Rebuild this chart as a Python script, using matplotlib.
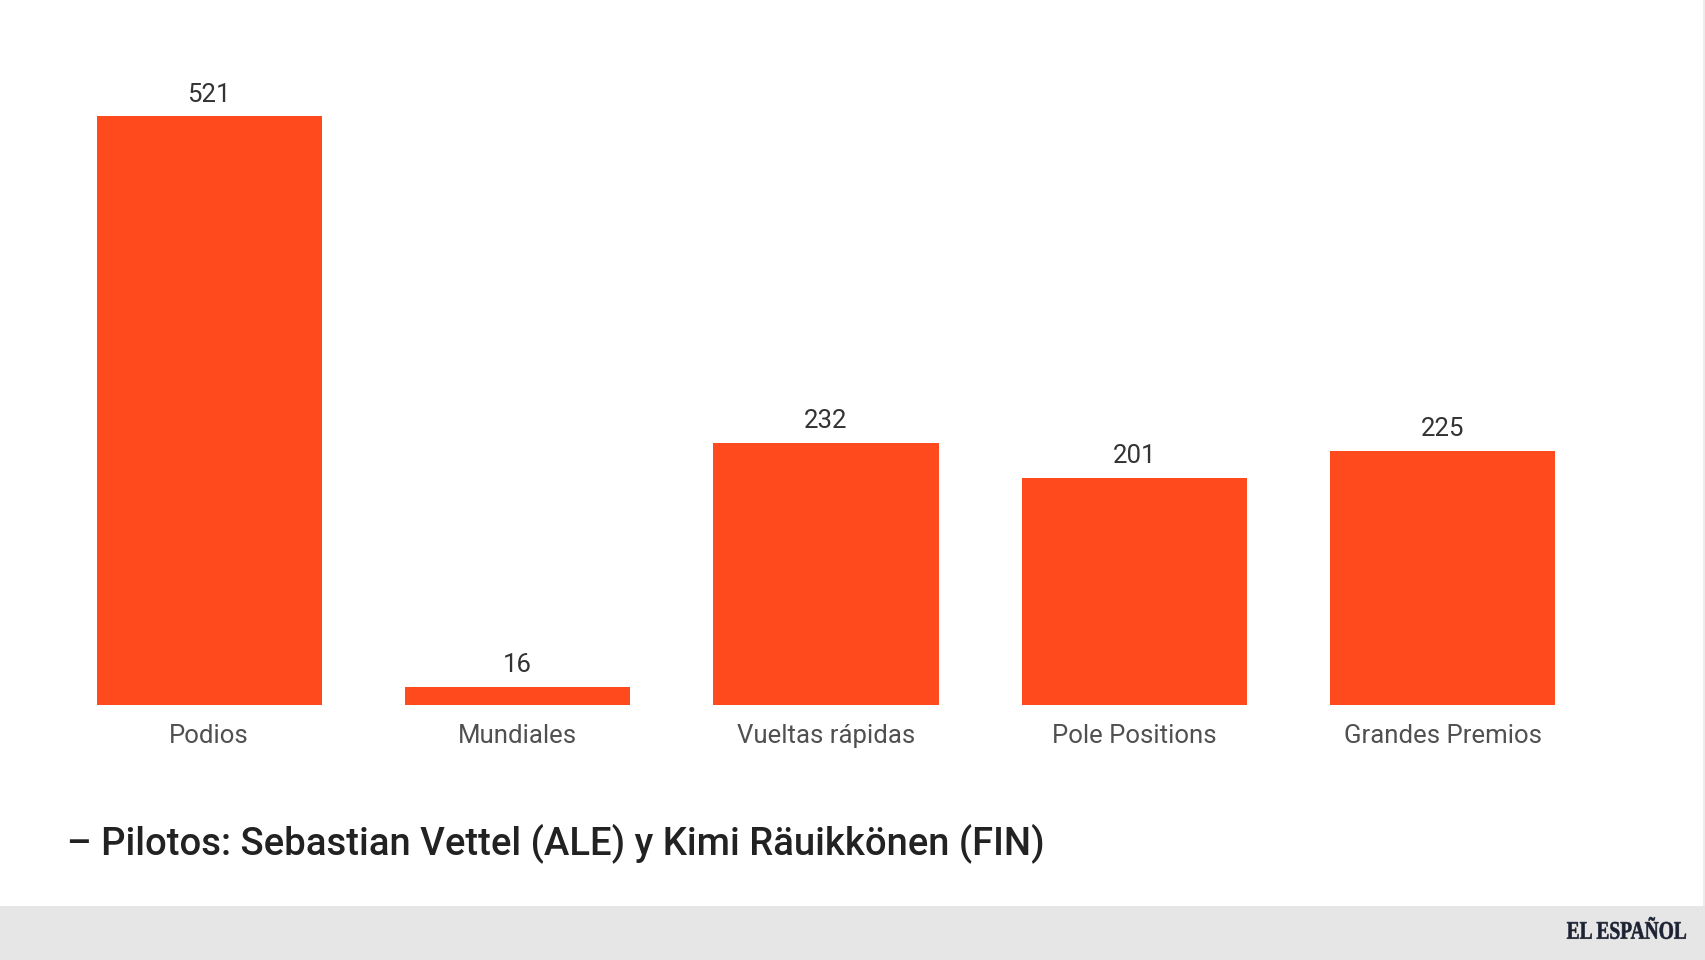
import matplotlib
matplotlib.use("Agg")
import matplotlib.pyplot as plt
from matplotlib.patches import Rectangle, PathPatch
from matplotlib.textpath import TextPath
from matplotlib.font_manager import FontProperties
from matplotlib.transforms import Affine2D

categories = ["Podios", "Mundiales", "Vueltas rápidas", "Pole Positions", "Grandes Premios"]
values = [521, 16, 232, 201, 225]
title = "– Pilotos: Sebastian Vettel (ALE) y Kimi Räuikkönen (FIN)"
logo = "EL ESPAÑOL"

BAR = "#fe4a1d"
W, H = 1706, 960
fig = plt.figure(figsize=(W / 100, H / 100), dpi=100)
fig.patch.set_facecolor("white")

# footer band
fig.patches.append(Rectangle((0, 0), 1, 54 / H, transform=fig.transFigure,
                             facecolor="#e6e6e6", edgecolor="none", zorder=0))
# thin right border strip
fig.patches.append(Rectangle((1703 / W, 54 / H), 3 / W, 1 - 54 / H, transform=fig.transFigure,
                             facecolor="#ececec", edgecolor="none", zorder=0))

ax = fig.add_axes([55 / W, 255 / H, 1542 / W, 678 / H])
ax.set_facecolor("none")
x = list(range(len(categories)))
ax.bar(x, values, width=0.73, color=BAR, zorder=2)
ax.set_xlim(-0.5, len(categories) - 0.5)
ax.set_ylim(0, 600)
for s in ax.spines.values():
    s.set_visible(False)
ax.set_yticks([])
ax.set_xticks(x)
ax.set_xticklabels(categories, fontsize=18.5, color="#505050", family=["Roboto", "DejaVu Sans"])
ax.tick_params(axis="x", length=0, pad=14)

for xi, v in zip(x, values):
    ax.annotate(str(v), (xi, v), xytext=(0, 7), textcoords="offset points",
                ha="center", va="bottom", fontsize=18.5, color="#333333",
                family=["Roboto", "DejaVu Sans"])

fig.text(67 / W, 1 - 843 / H, title, ha="left", va="center", fontsize=27.5,
         color="#222222", fontweight="medium", family=["Roboto", "DejaVu Sans"])

# condensed serif logo
fp = FontProperties(family=["Liberation Serif", "DejaVu Serif"], weight="bold")
tp = TextPath((0, 0), logo, size=26, prop=fp)
bb = tp.get_extents()
target_w, target_h = 119.0, 22.0
sx = target_w / bb.width
sy = target_h / bb.height
tr = Affine2D().translate(-bb.x0, -bb.y0).scale(sx, sy).translate(1567, 960 - 939)
path = tr.transform_path(tp)
fig.patches.append(PathPatch(path, transform=None, facecolor="#1c2233",
                             edgecolor="#1c2233", lw=0.4, zorder=3))

fig.savefig("out.png", dpi=100)
